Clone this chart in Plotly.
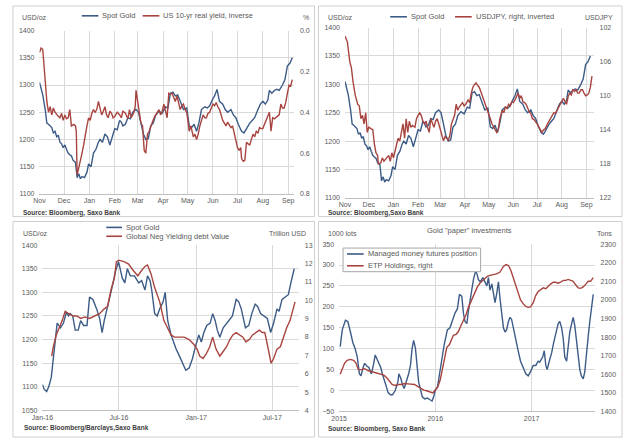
import pandas as pd
import plotly.graph_objects as go

W, H = 625, 442
BLUE = "#3c5b86"
RED = "#a8443f"
GRID = "#d9d9d9"
TXT = "#595959"
FONT = "Arial"

# ---------------- Panel 1 & 2: Spot gold (days from 2016-11-01) ----------------
gold_days = [0, 2, 4, 7, 9, 11, 13, 15, 17, 19, 21, 23, 25, 27, 29, 31, 33, 35, 37, 39, 41, 44, 46, 48, 50, 52, 55, 58, 60,
             63, 66, 69, 72, 74, 77, 80, 83, 86, 88, 92, 95, 98, 100, 102, 105, 108, 111, 114, 118, 121, 124, 127, 130,
             133, 136, 139, 142, 146, 150, 154, 157, 160, 163, 166, 169, 172, 176, 180, 183, 186, 189, 192, 195, 198,
             202, 205, 208, 212, 214, 217, 220, 224, 227, 230, 234, 237, 240, 243, 247, 250, 253, 257, 260, 263, 267,
             270, 273, 276, 279, 281, 284, 287, 290, 293, 297, 300, 303, 306, 309]
gold_vals = [1305, 1295, 1282, 1255, 1230, 1228, 1225, 1222, 1212, 1215, 1205, 1208, 1195, 1192, 1185, 1190, 1182, 1175,
             1172, 1170, 1162, 1158, 1130, 1137, 1128, 1132, 1130, 1140, 1155, 1150, 1175, 1182, 1195, 1200, 1195, 1210,
             1205, 1190, 1200, 1220, 1218, 1235, 1232, 1225, 1228, 1240, 1238, 1250, 1255, 1250, 1230, 1210, 1200, 1202,
             1225, 1230, 1245, 1252, 1248, 1260, 1258, 1285, 1287, 1280, 1282, 1270, 1255, 1258, 1225, 1222, 1228, 1215,
             1232, 1255, 1260, 1258, 1262, 1275, 1280, 1292, 1270, 1265, 1255, 1250, 1255, 1245, 1240, 1228, 1215, 1212,
             1220, 1230, 1235, 1240, 1255, 1265, 1270, 1265, 1272, 1290, 1285, 1290, 1292, 1290, 1300, 1310, 1335, 1340,
             1350]

# US 10-yr real yield (%), plotted inverted
ry_days = [0, 2, 4, 7, 9, 11, 13, 15, 17, 19, 21, 23, 25, 27, 29, 31, 33, 35, 37, 39, 42, 44, 45, 46, 48, 50, 52, 54, 56,
           58, 60, 62, 64, 66, 68, 70, 72, 74, 76, 78, 80, 82, 84, 86, 88, 90, 92, 95, 98, 100, 102, 105, 108, 110, 112,
           115, 117, 118, 120, 122, 124, 126, 128, 130, 132, 134, 136, 138, 140, 142, 144, 146, 148, 150, 152, 154, 156,
           158, 160, 162, 164, 166, 168, 170, 172, 174, 176, 178, 180, 183, 185, 188, 190, 192, 194, 196, 198, 200, 202,
           204, 206, 208, 210, 212, 214, 216, 218, 220, 222, 224, 226, 228, 230, 232, 234, 236, 238, 240, 242, 244, 246,
           247, 249, 251, 253, 255, 257, 259, 261, 263, 265, 267, 269, 271, 273, 275, 277, 279, 281, 283, 285, 287, 289,
           291, 293, 295, 297, 299, 301, 303, 305, 307, 309]
ry_vals = [0.107, 0.085, 0.093, 0.267, 0.347, 0.40, 0.373, 0.413, 0.379, 0.40, 0.413, 0.42, 0.427, 0.405, 0.44, 0.413,
           0.432, 0.427, 0.387, 0.467, 0.459, 0.467, 0.493, 0.707, 0.672, 0.64, 0.60, 0.56, 0.507, 0.467, 0.427, 0.44,
           0.405, 0.387, 0.40, 0.387, 0.347, 0.387, 0.413, 0.395, 0.373, 0.413, 0.427, 0.395, 0.405, 0.427, 0.421, 0.40,
           0.413, 0.427, 0.395, 0.405, 0.432, 0.387, 0.427, 0.405, 0.373, 0.293, 0.347, 0.387, 0.453, 0.467, 0.587,
           0.60, 0.507, 0.493, 0.467, 0.448, 0.427, 0.413, 0.40, 0.387, 0.413, 0.395, 0.36, 0.40, 0.427, 0.307, 0.312,
           0.307, 0.325, 0.347, 0.32, 0.36, 0.387, 0.368, 0.36, 0.387, 0.40, 0.493, 0.467, 0.52, 0.507, 0.533, 0.507,
           0.467, 0.44, 0.413, 0.427, 0.427, 0.405, 0.40, 0.379, 0.36, 0.368, 0.352, 0.373, 0.387, 0.413, 0.44, 0.453,
           0.467, 0.448, 0.459, 0.475, 0.467, 0.507, 0.547, 0.573, 0.587, 0.573, 0.627, 0.64, 0.635, 0.547, 0.555, 0.56,
           0.533, 0.507, 0.52, 0.493, 0.501, 0.475, 0.48, 0.48, 0.459, 0.44, 0.413, 0.40, 0.493, 0.427, 0.432, 0.427,
           0.421, 0.413, 0.36, 0.379, 0.379, 0.352, 0.307, 0.267, 0.272, 0.24]

# USDJPY, plotted inverted
jpy_days = [0, 3, 6, 8, 10, 13, 16, 18, 20, 22, 24, 26, 28, 30, 33, 35, 37, 39, 41, 42, 45, 47, 49, 51, 53, 55, 57, 59, 61,
            63, 65, 67, 69, 71, 73, 75, 77, 79, 81, 83, 85, 88, 90, 92, 94, 96, 98, 100, 102, 104, 106, 108, 110, 112,
            114, 116, 118, 120, 122, 124, 126, 128, 130, 132, 134, 136, 138, 140, 142, 144, 146, 148, 150, 152, 155,
            157, 159, 161, 163, 165, 167, 169, 171, 173, 175, 177, 179, 181, 183, 185, 187, 189, 191, 193, 195, 198,
            200, 202, 204, 206, 208, 210, 212, 214, 216, 218, 220, 222, 224, 226, 228, 230, 232, 234, 236, 238, 240,
            242, 244, 246, 248, 250, 252, 255, 257, 259, 261, 263, 265, 267, 269, 271, 273, 275, 277, 279, 281, 283,
            285, 287, 289, 291, 293, 295, 297, 299, 301, 303, 305, 307, 309, 311]
jpy_vals = [103.0, 103.7, 106.0, 106.7, 108.3, 110.0, 111.0, 111.2, 112.7, 112.3, 113.3, 112.0, 114.3, 113.7, 113.9,
            114.0, 115.7, 116.7, 117.0, 118.0, 117.9, 117.3, 117.7, 117.5, 117.2, 117.0, 117.7, 116.7, 117.3, 116.3,
            115.7, 115.0, 115.3, 114.3, 113.3, 115.0, 112.7, 114.3, 113.0, 113.7, 113.5, 113.7, 112.7, 112.3, 112.0,
            112.3, 113.0, 113.3, 113.0, 113.7, 114.3, 112.7, 113.2, 113.7, 113.0, 112.7, 113.3, 113.9, 114.7, 115.3,
            114.8, 115.0, 115.2, 114.7, 113.3, 112.8, 112.3, 111.0, 111.7, 111.3, 111.0, 110.8, 111.2, 111.0, 110.5,
            110.8, 109.7, 109.0, 108.7, 108.5, 108.8, 109.0, 109.5, 110.0, 110.5, 111.0, 111.5, 112.0, 112.7, 113.3,
            113.7, 114.0, 114.3, 114.0, 112.7, 111.7, 112.0, 111.3, 111.5, 111.0, 111.2, 110.7, 110.8, 110.5, 110.0,
            109.7, 110.3, 110.0, 110.7, 110.8, 111.0, 111.5, 111.9, 112.1, 112.7, 112.8, 113.0, 113.3, 113.7, 114.0,
            114.3, 114.0, 113.9, 113.3, 113.0, 112.7, 112.3, 112.0, 112.1, 111.7, 111.2, 111.0, 110.7, 110.3, 110.7,
            111.0, 110.1, 109.7, 109.9, 109.3, 109.5, 109.3, 109.7, 109.7, 109.3, 109.3, 109.7, 110.0, 109.9, 109.7,
            109.0, 107.7]

# ---------------- Panel 3 (days from 2016-01-01) ----------------
g3_days = [0, 4, 10, 15, 21, 26, 31, 35, 43, 50, 57, 62, 66, 72, 78, 85, 91, 98, 106, 112, 120, 129, 136, 142, 147, 153,
           159, 168, 174, 181, 186, 190, 196, 202, 209, 219, 229, 236, 244, 250, 256, 260, 267, 273, 279, 287, 292, 298,
           306, 313, 318, 326, 333, 341, 349, 357, 364, 372, 378, 384, 391, 399, 405, 411, 416, 422, 430, 438, 446, 452,
           457, 461, 467, 473, 478, 483, 491, 498, 506, 512, 519, 527, 535, 543, 550, 558, 563, 570, 578, 585, 591, 599]
g3_vals = [1105, 1095, 1090, 1100, 1120, 1160, 1200, 1235, 1225, 1235, 1258, 1250, 1255, 1250, 1220, 1220, 1240, 1230,
           1230, 1290, 1285, 1265, 1245, 1215, 1240, 1260, 1285, 1320, 1345, 1365, 1345, 1330, 1320, 1350, 1335, 1335,
           1320, 1325, 1305, 1335, 1325, 1305, 1255, 1250, 1265, 1280, 1300, 1240, 1210, 1190, 1180, 1165, 1150, 1135,
           1140, 1160, 1185, 1210, 1195, 1215, 1230, 1235, 1255, 1240, 1220, 1205, 1225, 1235, 1245, 1250, 1270, 1285,
           1280, 1265, 1245, 1225, 1230, 1255, 1275, 1270, 1255, 1250, 1245, 1215, 1235, 1265, 1260, 1285, 1290, 1295,
           1320, 1350]
neg_days = [22, 26, 33, 40, 47, 54, 62, 74, 82, 91, 101, 112, 124, 136, 147, 155, 163, 171, 176, 182, 194, 205, 217, 227,
            235, 244, 250, 258, 267, 279, 289, 298, 306, 314, 326, 337, 349, 360, 368, 374, 382, 390, 398, 405, 413, 422,
            430, 438, 446, 453, 461, 469, 477, 484, 492, 500, 508, 516, 523, 529, 535, 540, 544, 550, 558, 566, 574, 581,
            589, 594, 601]
neg_vals = [6.96, 7.47, 8.11, 8.50, 8.89, 9.40, 9.27, 9.14, 9.14, 9.01, 9.09, 9.01, 9.14, 9.27, 9.53, 9.66, 10.56, 11.20,
            12.10, 12.18, 12.10, 11.97, 11.59, 11.33, 11.59, 11.84, 11.92, 11.46, 10.69, 9.91, 8.89, 8.50, 8.11, 7.99,
            7.99, 7.99, 7.86, 7.60, 7.34, 6.96, 6.83, 7.09, 7.47, 7.99, 7.34, 6.96, 7.21, 7.47, 7.86, 8.11, 8.24, 8.11,
            7.99, 7.73, 7.86, 8.11, 8.24, 8.37, 8.24, 8.24, 7.60, 6.96, 6.57, 6.83, 7.34, 7.47, 7.99, 8.50, 8.89, 9.27,
            9.91]

# ---------------- Panel 4 (days from 2015-01-01) ----------------
mm_days = [4, 12, 24, 33, 43, 52, 61, 69, 77, 83, 91, 97, 106, 113, 122, 130, 137, 144, 152, 158, 164, 170, 179, 186,
           195, 203, 213, 223, 227, 234, 240, 247, 255, 264, 271, 277, 283, 290, 296, 302, 308, 316, 325, 335, 345, 353,
           359, 365, 374, 381, 390, 399, 406, 411, 421, 431, 440, 449, 457, 466, 472, 478, 485, 491, 500, 510, 518, 523,
           529, 536, 546, 554, 561, 567, 573, 580, 586, 592, 598, 605, 611, 617, 624, 630, 636, 643, 649, 655, 661, 671,
           680, 689, 699, 709, 718, 727, 737, 747, 756, 762, 773, 779, 785, 790, 798, 807, 815, 823, 832, 838, 845, 851,
           857, 864, 870, 876, 883, 889, 895, 902, 908, 914, 920, 927, 933, 939, 946, 952, 958, 965]
mm_vals = [105, 145, 168, 165, 140, 115, 100, 80, 40, 35, 55, 65, 58, 55, 40, 60, 85, 75, 60, 55, 40, 30, 10, -5, -10,
           -10, 0, 20, 40, 30, 15, 5, 20, 40, 60, 100, 120, 100, 60, 20, 5, -15, -20, -18, -22, -25, -15, 0, 10, 40, 80,
           110, 130, 145, 150, 170, 185, 195, 230, 225, 185, 165, 160, 190, 230, 265, 285, 280, 265, 260, 270, 260, 250,
           270, 240, 255, 230, 210, 230, 260, 220, 190, 150, 140, 145, 165, 175, 170, 150, 120, 95, 70, 55, 40, 35, 45,
           60, 60, 70, 68, 80, 95, 60, 50, 70, 90, 115, 140, 160, 165, 150, 125, 80, 70, 105, 140, 160, 175, 155, 110,
           80, 50, 35, 28, 45, 90, 130, 165, 195, 230]
etp_days = [4, 12, 21, 30, 43, 55, 64, 73, 85, 97, 109, 122, 134, 146, 158, 170, 182, 191, 201, 213, 225, 237, 249, 262,
            274, 286, 298, 310, 322, 335, 347, 356, 365, 374, 384, 394, 403, 409, 419, 428, 434, 444, 453, 462, 472, 482,
            491, 500, 508, 517, 525, 536, 546, 554, 563, 573, 586, 598, 611, 624, 634, 643, 652, 661, 671, 680, 689, 699,
            709, 718, 727, 737, 747, 756, 765, 775, 785, 794, 803, 813, 823, 832, 841, 851, 861, 870, 879, 889, 899, 908,
            917, 927, 937, 946, 955, 965]
etp_vals = [1600, 1630, 1660, 1675, 1680, 1675, 1660, 1625, 1625, 1630, 1620, 1615, 1610, 1605, 1600, 1595, 1580, 1560,
            1545, 1540, 1545, 1545, 1550, 1548, 1545, 1545, 1535, 1525, 1515, 1510, 1505, 1500, 1515, 1530, 1570, 1640,
            1700, 1745, 1760, 1790, 1810, 1815, 1830, 1860, 1890, 1920, 1960, 1990, 2020, 2048, 2070, 2092, 2105, 2115,
            2127, 2132, 2136, 2140, 2150, 2180, 2190, 2185, 2160, 2120, 2070, 2030, 2000, 1980, 1965, 1960, 1962, 1985,
            2025, 2045, 2055, 2065, 2060, 2075, 2085, 2095, 2095, 2090, 2095, 2105, 2105, 2110, 2105, 2100, 2080, 2065,
            2062, 2070, 2085, 2100, 2100, 2120]


def to_dates(start, days):
    return pd.Timestamp(start) + pd.to_timedelta(days, unit="D")


def px(x):
    return x / W


def py(y):
    return 1 - y / H


fig = go.Figure()
line_w = 1.4
fig.add_trace(go.Scatter(x=to_dates("2016-11-01", gold_days), y=gold_vals, name="Spot Gold", mode="lines",
                         line=dict(color=BLUE, width=line_w), xaxis="x", yaxis="y", showlegend=False))
fig.add_trace(go.Scatter(x=to_dates("2016-11-01", ry_days), y=ry_vals, name="US 10-yr real yield, inverse",
                         mode="lines", line=dict(color=RED, width=line_w), xaxis="x", yaxis="y2", showlegend=False))
fig.add_trace(go.Scatter(x=to_dates("2016-11-01", gold_days), y=gold_vals, name="Spot Gold", mode="lines",
                         line=dict(color=BLUE, width=line_w), xaxis="x2", yaxis="y3", showlegend=False))
fig.add_trace(go.Scatter(x=to_dates("2016-11-01", jpy_days), y=jpy_vals, name="USDJPY, right, inverted",
                         mode="lines", line=dict(color=RED, width=line_w), xaxis="x2", yaxis="y4", showlegend=False))
fig.add_trace(go.Scatter(x=to_dates("2016-01-01", g3_days), y=g3_vals, name="Spot Gold", mode="lines",
                         line=dict(color=BLUE, width=line_w), xaxis="x3", yaxis="y5", showlegend=False))
fig.add_trace(go.Scatter(x=to_dates("2016-01-01", neg_days), y=neg_vals, name="Global Neg Yielding debt Value",
                         mode="lines", line=dict(color=RED, width=line_w), xaxis="x3", yaxis="y6", showlegend=False))
fig.add_trace(go.Scatter(x=to_dates("2015-01-01", mm_days), y=mm_vals, name="Managed money futures position",
                         mode="lines", line=dict(color=BLUE, width=line_w), xaxis="x4", yaxis="y7", showlegend=False))
fig.add_trace(go.Scatter(x=to_dates("2015-01-01", etp_days), y=etp_vals, name="ETP Holdings, right",
                         mode="lines", line=dict(color=RED, width=line_w), xaxis="x4", yaxis="y8", showlegend=False))

tickfont = dict(family=FONT, size=7, color=TXT)


def xax(dom, rng, dtick, tick0, fmt, anchor):
    return dict(domain=[px(dom[0]), px(dom[1])], range=rng, type="date", dtick=dtick, tick0=tick0, tickformat=fmt,
                showgrid=True, gridcolor=GRID, gridwidth=1, showline=True, linecolor="#bfbfbf", linewidth=1,
                ticks="", tickfont=tickfont, anchor=anchor, zeroline=False)


def yleft(dom, rng, dtick, anchor):
    return dict(domain=[py(dom[1]), py(dom[0])], range=rng, dtick=dtick, showgrid=True, gridcolor=GRID,
                gridwidth=1, showline=False, zeroline=False, ticks="", tickfont=tickfont, anchor=anchor,
                ticklabelstandoff=4)


def yright(over, rng, tickvals, ticktext, anchor):
    return dict(overlaying=over, side="right", range=rng, tickvals=tickvals, ticktext=ticktext, showgrid=False,
                zeroline=False, showline=False, ticks="", tickfont=tickfont, anchor=anchor, ticklabelstandoff=5)


end1 = to_dates("2016-11-01", [311])[0]
end2 = to_dates("2016-11-01", [313])[0]
end3 = to_dates("2016-01-01", [610])[0]
end4 = to_dates("2015-01-01", [970])[0]

fig.update_layout(
    xaxis=xax((29, 288), ["2016-11-01", end1], "M1", "2016-11-01", "%b", "y"),
    yaxis=yleft((27, 193), [1100, 1400], 50, "x"),
    yaxis2=yright("y", [0.8, 0.0], [0.0, 0.2, 0.4, 0.6, 0.8], ["0.0", "0.2", "0.4", "0.6", "0.8"], "x"),
    xaxis2=xax((340, 593), ["2016-11-01", end2], "M1", "2016-11-01", "%b", "y3"),
    yaxis3=yleft((24, 197), [1100, 1400], 50, "x2"),
    yaxis4=yright("y3", [122, 102], [102, 106, 110, 114, 118, 122], ["102", "106", "110", "114", "118", "122"], "x2"),
    xaxis3=xax((32, 293), ["2016-01-01", end3], "M6", "2016-01-01", "%b-%y", "y5"),
    yaxis5=yleft((245, 413), [1050, 1400], 50, "x3"),
    yaxis6=yright("y5", [4, 13], list(range(4, 14)), [str(v) for v in range(4, 14)], "x3"),
    xaxis4=xax((334, 594), ["2015-01-01", end4], "M12", "2015-01-01", "%Y", "y7"),
    yaxis7=yleft((244, 414), [-50, 350], 50, "x4"),
    yaxis8=yright("y7", [1400, 2300], list(range(1400, 2301, 100)), [str(v) for v in range(1400, 2301, 100)], "x4"),
    width=W, height=H, margin=dict(l=0, r=0, t=0, b=0), paper_bgcolor="white", plot_bgcolor="white",
    font=dict(family=FONT, size=7, color=TXT), showlegend=False,
)

shapes = []
# panel frames
for (x0, y0, x1, y1) in [(2, 2, 309, 216), (313, 2, 622, 216), (2, 221, 309, 440), (313, 221, 622, 440)]:
    shapes.append(dict(type="rect", xref="paper", yref="paper", x0=px(x0), x1=px(x1), y0=py(y1), y1=py(y0),
                       line=dict(color="#cfcfcf", width=1), fillcolor="rgba(0,0,0,0)", layer="below"))
# legend box panel 4
shapes.append(dict(type="rect", xref="paper", yref="paper", x0=px(338), x1=px(478), y0=py(272), y1=py(248),
                   line=dict(color="#a6a6a6", width=1), fillcolor="white", layer="above"))

annotations = []


def legend_item(x0, x1, y, color, text):
    shapes.append(dict(type="line", xref="paper", yref="paper", x0=px(x0), x1=px(x1), y0=py(y), y1=py(y),
                       line=dict(color=color, width=1.6)))
    annotations.append(dict(x=px(x1 + 2), y=py(y), xref="paper", yref="paper", text=text, showarrow=False,
                            xanchor="left", yanchor="middle", font=dict(family=FONT, size=7.5, color=TXT)))


def label(x, y, text, anchor="left", size=7, bold=False, color=TXT):
    annotations.append(dict(x=px(x), y=py(y), xref="paper", yref="paper", text=("<b>%s</b>" % text) if bold else text,
                            showarrow=False, xanchor=anchor, yanchor="middle", font=dict(family=FONT, size=size,
                                                                                          color=color)))


# panel 1
legend_item(72, 89, 12, BLUE, "Spot Gold")
legend_item(134, 151, 12, RED, "US 10-yr real yield, inverse")
label(9, 14, "USD/oz")
label(305, 14, "%", anchor="right")
label(10, 212, "Source: Bloomberg, Saxo Bank", size=6.5, bold=True, color="#404040")
# panel 2
legend_item(386, 403, 13, BLUE, "Spot Gold")
legend_item(452, 469, 13, RED, "USDJPY, right, inverted")
label(321, 14, "USD/oz")
label(615, 14, "USDJPY", anchor="right")
label(321, 212, "Source: Bloomberg,Saxo Bank", size=6.5, bold=True, color="#404040")
# panel 3
legend_item(97, 113, 227, BLUE, "Spot Gold")
legend_item(97, 113, 236, RED, "Global Neg Yielding debt Value")
label(10, 233, "USD/oz")
label(302, 233, "Trillion USD", anchor="right")
label(11, 431, "Source: Bloomberg/Barclays,Saxo Bank", size=6.5, bold=True, color="#404040")
# panel 4
legend_item(342, 359, 254, BLUE, "Managed money futures position")
legend_item(342, 359, 266, RED, "ETP Holdings, right")
label(321, 233, "1000 lots")
label(614, 233, "Tons", anchor="right")
label(467, 230, "Gold \"paper\" investments", anchor="center", size=7.5)
label(321, 432, "Source: Bloomberg, Saxo Bank", size=6.5, bold=True, color="#404040")

fig.update_layout(shapes=shapes, annotations=annotations)
fig.write_html("out.html", config={"displayModeBar": False},
               post_script="document.body.style.margin='0';document.body.style.overflow='hidden';")
